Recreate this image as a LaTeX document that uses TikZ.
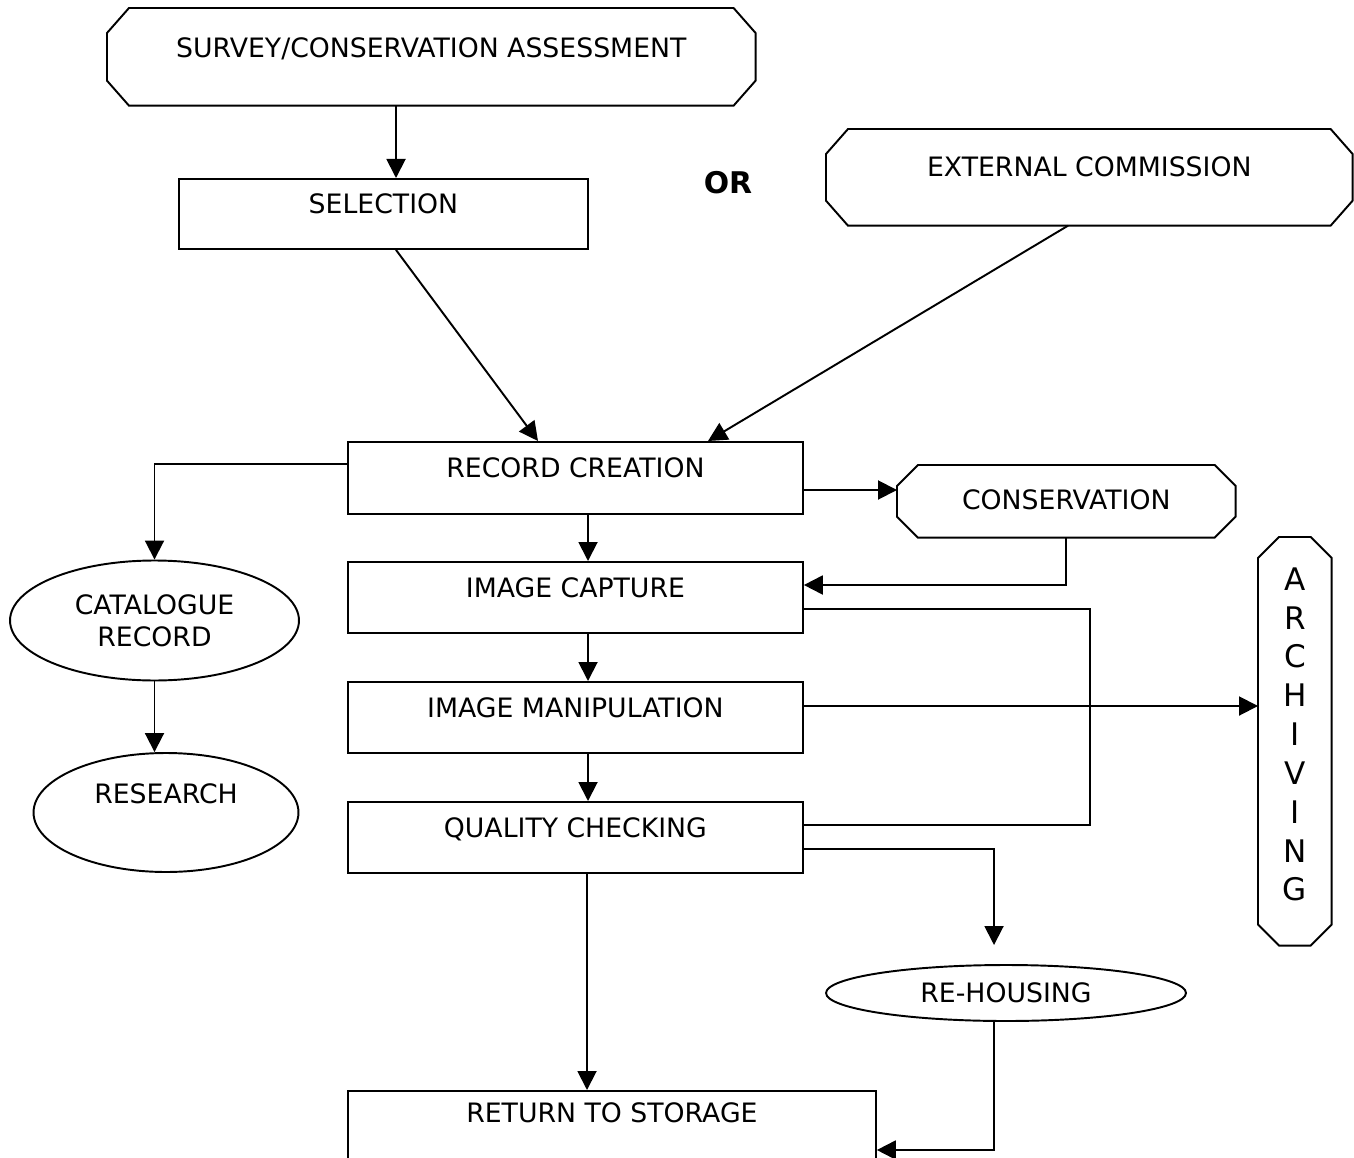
\documentclass[tikz,border=0pt]{standalone}
\usepackage{fontspec}
\setmainfont{DejaVu Sans}
\usetikzlibrary{arrows.meta,shapes.geometric}
\newcommand{\octpath}[3]{%
  \draw[line width=1.1pt] ([xshift=#2]#1.north west) -- ([xshift=-#2]#1.north east)
    -- ([yshift=-#3]#1.north east) -- ([yshift=#3]#1.south east)
    -- ([xshift=-#2]#1.south east) -- ([xshift=#2]#1.south west)
    -- ([yshift=#3]#1.south west) -- ([yshift=-#3]#1.north west) -- cycle;}
\begin{document}
\begin{tikzpicture}[x=0.02cm,y=-0.02cm,
  every node/.style={font=\fontsize{15.2}{18}\selectfont, inner sep=0pt},
  boxr/.style={draw, line width=1.1pt, rectangle, anchor=north west, text depth=0.4cm},
  octo/.style={rectangle, anchor=north west},
  ell/.style={draw, line width=1.1pt, ellipse},
  conn/.style={line width=1.1pt},
  arr/.style={line width=1.1pt, -{Triangle[length=0.38cm,width=0.38cm]}}]
\useasboundingbox (0,0) rectangle (1354,1158);

% octagonal nodes
\node[octo, minimum width=12.96cm, minimum height=1.94cm, text depth=0.38cm] (survey) at (107,8) {SURVEY/CONSERVATION ASSESSMENT};
\octpath{survey}{0.44cm}{0.5cm}
\node[octo, minimum width=10.52cm, minimum height=1.92cm, text depth=0.44cm] (ext) at (826,129) {EXTERNAL COMMISSION};
\octpath{ext}{0.44cm}{0.5cm}
\node[octo, minimum width=6.76cm, minimum height=1.44cm, text depth=0.08cm] (cons) at (897,465) {CONSERVATION};
\octpath{cons}{0.42cm}{0.42cm}
\node[octo, minimum width=1.46cm, minimum height=8.16cm, align=center,
  font=\fontsize{17.7}{22.1}\selectfont, text depth=0.28cm] (arch) at (1258,537)
  {A\\R\\C\\H\\I\\V\\I\\N\\G};
\octpath{arch}{0.42cm}{0.42cm}

% rectangles
\node[boxr, minimum width=8.18cm, minimum height=1.4cm] (sel) at (178,178) {SELECTION};
\node[boxr, minimum width=9.1cm, minimum height=1.44cm] (rec) at (347,441) {RECORD CREATION};
\node[boxr, minimum width=9.1cm, minimum height=1.42cm] (cap) at (347,561) {IMAGE CAPTURE};
\node[boxr, minimum width=9.1cm, minimum height=1.42cm] (man) at (347,681) {IMAGE MANIPULATION};
\node[boxr, minimum width=9.1cm, minimum height=1.42cm] (qc) at (347,801) {QUALITY CHECKING};
\node[boxr, minimum width=10.56cm, minimum height=1.6cm, text depth=0.72cm] (ret) at (347,1090) {RETURN TO STORAGE};

% ellipses
\node[ell, minimum width=5.78cm, minimum height=2.4cm, align=center] (cat) at (154.5,620.5) {CATALOGUE\\RECORD};
\node[ell, minimum width=5.3cm, minimum height=2.38cm, text depth=0.76cm] (res) at (166,812.5) {RESEARCH};
\node[ell, minimum width=7.2cm, minimum height=1.12cm] (reh) at (1006,993) {RE-HOUSING};

% OR
\node[font=\fontsize{17}{20}\selectfont\bfseries] (or) at (728,183) {OR};

% connectors
\coordinate (rhin) at (994,945);
\coordinate (loop) at (1090,825);
\draw[arr] (396,0 |- survey.south) -- (396,0 |- sel.north);
\draw[arr] (396,0 |- sel.south) -- (538,0 |- rec.north);
\draw[arr] (1068,0 |- ext.south) -- (708,0 |- rec.north);
\draw[arr] (0,464 -| rec.west) -| (cat.north);
\draw[arr] (0,490 -| rec.east) -- (0,490 -| cons.west);
\draw[arr] (588,0 |- rec.south) -- (588,0 |- cap.north);
\draw[arr] (cons.south) |- (0,585 -| cap.east);
\draw[conn] (0,609 -| cap.east) -| (loop) -- (loop -| qc.east);
\draw[arr] (588,0 |- cap.south) -- (588,0 |- man.north);
\draw[arr] (0,706 -| man.east) -- (0,706 -| arch.west);
\draw[arr] (588,0 |- man.south) -- (588,0 |- qc.north);
\draw[arr] (0,849 -| qc.east) -| (rhin);
\draw[arr] (587,0 |- qc.south) -- (587,0 |- ret.north);
\draw[arr] (994,0 |- reh.south) |- (0,1150 -| ret.east);
\draw[arr] (cat.south) -- (cat.south |- res.north);
\end{tikzpicture}
\end{document}
